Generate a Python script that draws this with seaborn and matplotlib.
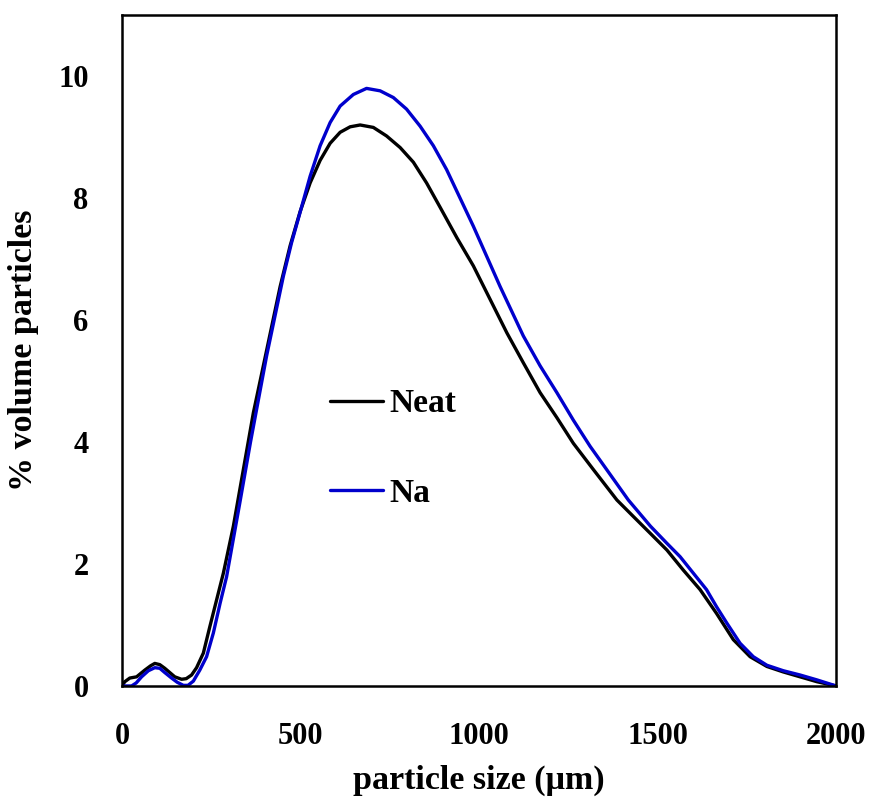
import numpy as np
import pandas as pd
import seaborn as sns
import matplotlib
matplotlib.use("Agg")
import matplotlib.pyplot as plt
from matplotlib.ticker import MultipleLocator

# Data
neat_x = [0, 8, 22, 41, 64, 80, 92, 106, 120, 148, 167, 180, 195, 209, 228, 246, 265, 284,
          312, 340, 368, 405, 443, 471, 499, 527, 555, 583, 611, 639, 667, 704, 741, 779,
          816, 853, 891, 938, 984, 1031, 1078, 1124, 1171, 1218, 1264, 1320, 1386, 1432,
          1480, 1526, 1572, 1619, 1665, 1712, 1759, 1806, 1852, 1899, 1946, 2000]
neat_y = [0, 0.07, 0.13, 0.15, 0.26, 0.33, 0.37, 0.35, 0.29, 0.15, 0.11, 0.12, 0.18, 0.30,
          0.54, 0.97, 1.41, 1.85, 2.62, 3.55, 4.48, 5.50, 6.55, 7.22, 7.78, 8.25, 8.62, 8.90,
          9.08, 9.17, 9.20, 9.16, 9.02, 8.83, 8.59, 8.25, 7.85, 7.35, 6.89, 6.34, 5.79, 5.30,
          4.81, 4.40, 3.98, 3.55, 3.05, 2.78, 2.50, 2.23, 1.90, 1.58, 1.19, 0.76, 0.48, 0.32,
          0.23, 0.15, 0.07, 0]

na_x = [0, 27, 40, 55, 74, 92, 106, 120, 139, 155, 172, 185, 200, 218, 237, 256, 275, 293,
        330, 360, 405, 452, 475, 499, 527, 555, 583, 611, 648, 685, 723, 760, 797, 835, 872,
        909, 984, 1031, 1059, 1124, 1171, 1218, 1264, 1311, 1339, 1418, 1480, 1526, 1563,
        1600, 1637, 1665, 1694, 1731, 1768, 1806, 1852, 1899, 1946, 2000]
na_y = [0, 0, 0.05, 0.15, 0.25, 0.30, 0.29, 0.22, 0.13, 0.06, 0.01, 0.01, 0.08, 0.26, 0.48,
        0.87, 1.36, 1.79, 3.00, 4.00, 5.41, 6.72, 7.27, 7.77, 8.36, 8.86, 9.24, 9.51, 9.70,
        9.80, 9.76, 9.65, 9.46, 9.18, 8.86, 8.47, 7.54, 6.92, 6.55, 5.74, 5.25, 4.81, 4.36,
        3.93, 3.70, 3.05, 2.62, 2.34, 2.12, 1.85, 1.58, 1.30, 1.03, 0.70, 0.48, 0.34, 0.25,
        0.18, 0.10, 0]

series_names = ["Neat", "Na"]
series_colors = ["#000000", "#0000CC"]

df = pd.concat([
    pd.DataFrame({"x": neat_x, "y": neat_y, "s": "Neat"}),
    pd.DataFrame({"x": na_x, "y": na_y, "s": "Na"}),
])

sns.set_style("white")
plt.rcParams["font.family"] = ["Liberation Serif", "DejaVu Serif"]
plt.rcParams["font.weight"] = "bold"
plt.rcParams["text.color"] = "black"
plt.rcParams["axes.labelcolor"] = "black"
plt.rcParams["xtick.color"] = "black"
plt.rcParams["ytick.color"] = "black"

fig = plt.figure(figsize=(8.71, 8.01), dpi=100)
ax = fig.add_axes([0.140, 0.1436, 0.820, 0.8374])

sns.lineplot(data=df, x="x", y="y", hue="s", hue_order=series_names,
             palette=series_colors, linewidth=2.4, sort=False, ax=ax, legend=True)

ax.set_xlim(0, 2000)
ax.set_ylim(0, 11)
ax.xaxis.set_major_locator(MultipleLocator(500))
ax.xaxis.set_minor_locator(MultipleLocator(250))
ax.yaxis.set_major_locator(MultipleLocator(2))
ax.yaxis.set_minor_locator(MultipleLocator(1))
ax.tick_params(which="both", direction="in", color="black", width=1.8,
               top=False, right=False, labelcolor="black")
ax.tick_params(which="major", length=8)
ax.tick_params(which="minor", length=6)
ax.tick_params(axis="x", which="major", pad=26, labelsize=22)
ax.tick_params(axis="y", which="major", pad=24, labelsize=22)
for lab in ax.get_xticklabels() + ax.get_yticklabels():
    lab.set_fontweight("bold")
for sp in ax.spines.values():
    sp.set_visible(True)
    sp.set_color("black")
    sp.set_linewidth(1.8)

ax.set_xlabel("particle size (μm)", fontsize=24.5, fontweight="bold", labelpad=10,
              color="black")
ax.set_ylabel("% volume particles", fontsize=24.5, fontweight="bold", labelpad=14,
              color="black")

leg = ax.legend(loc="center left", bbox_to_anchor=(0.291, 0.354), frameon=False,
                borderpad=0, borderaxespad=0,
                handlelength=1.6, handletextpad=0.18, labelspacing=1.75,
                prop={"weight": "bold", "size": 24})
for t in leg.get_texts():
    t.set_color("black")

fig.savefig("out.png", dpi=100)
